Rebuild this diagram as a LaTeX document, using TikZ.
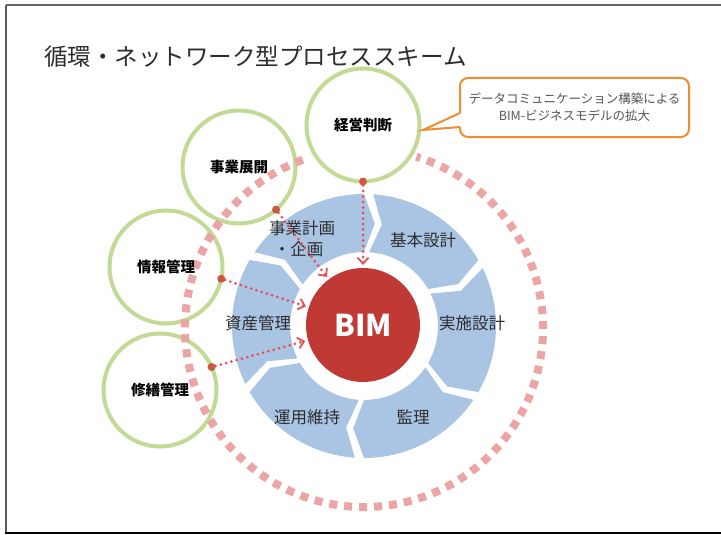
\documentclass[tikz,border=0pt]{standalone}
\usepackage{fontspec}
\newfontfamily\jp{Noto Sans CJK JP}
\usetikzlibrary{arrows.meta}
\definecolor{ringblue}{RGB}{170,196,228}
\definecolor{bimred}{RGB}{192,57,52}
\definecolor{leafgreen}{RGB}{195,218,150}
\definecolor{dashpink}{RGB}{236,165,165}
\definecolor{dotred}{RGB}{205,88,62}
\definecolor{arrowred}{RGB}{230,80,80}
\definecolor{calloutorange}{RGB}{240,140,50}
\definecolor{txtdark}{RGB}{45,45,45}
\definecolor{txtgray}{RGB}{85,85,85}
\tikzset{
  greenring/.style={circle, draw=leafgreen, line width=4pt, minimum size=113pt, inner sep=0pt, outer sep=0pt},
  ringlabel/.style={font=\jp\bfseries\fontsize{14.5pt}{16pt}\selectfont, text=black, inner sep=0pt},
  seglabel/.style={font=\jp\fontsize{16.5pt}{21pt}\selectfont, text=txtdark, inner sep=0pt, align=center},
  reddot/.style={circle, fill=dotred, minimum size=8pt, inner sep=0pt, outer sep=0pt},
  dotarrow/.style={draw=arrowred, line width=3pt, dash pattern=on 0pt off 5.5pt, line cap=round,
    shorten >=3pt, -{Straight Barb[length=6pt,width=11pt,line width=1.8pt]}},
}
\begin{document}
\begin{tikzpicture}[x=1pt,y=-1pt]
\useasboundingbox (0,0) rectangle (721,535);
\fill[white] (0,0) rectangle (721,535);
% frame
\draw[gray!80!black, line width=1.2pt] (6,5) -- (721,5);
\draw[gray!70!black, line width=2pt] (6,5) -- (6,533);
\draw[black, line width=2pt] (5,533) -- (721,533);
% title
\node[anchor=west, font=\jp\fontsize{23.5pt}{28pt}\selectfont, text=txtdark, inner sep=0pt] (title) at (44,57) {循環・ネットワーク型プロセススキーム};
% blue ring segments
\begin{scope}[shift={(364,326)}, x=1pt, y=1pt]
\foreach \g in {88,28,-32,-92,-152,-212} {
  \pgfmathsetmacro\a{\g-2}
  \pgfmathsetmacro\b{\g-60+2}
  \pgfmathsetmacro\an{\a-6}
  \pgfmathsetmacro\bn{\b-6}
  \fill[ringblue] (\a:132) arc[start angle=\a, end angle=\b, radius=132] -- (\bn:103) -- (\b:74)
     arc[start angle=\b, end angle=\a, radius=74] -- (\an:103) -- cycle;
}
\end{scope}
% segment labels
\node[seglabel] (s1) at (302,239) {事業計画\\\hspace*{-0.4em}・企画};
\node[seglabel] (s2) at (423,240) {基本設計};
\node[seglabel] (s3) at (472,323) {実施設計};
\node[seglabel] (s4) at (413,417) {監理};
\node[seglabel] (s5) at (307,417) {運用維持};
\node[seglabel] (s6) at (258,323) {資産管理};
% BIM
\node[circle, fill=bimred, minimum size=114pt, inner sep=0pt, outer sep=0pt, text=white,
  font=\jp\bfseries\fontsize{30pt}{32pt}\selectfont] (bim) at (363,325) {BIM};
% green circles
\node[greenring] (c1) at (363,125) {};
\node[greenring] (c2) at (239,167) {};
\node[greenring] (c3) at (166,267) {};
\node[greenring] (c4) at (160,390) {};
% dashed big circle
\begin{scope}[shift={(364,328)}, x=1pt, y=1pt]
\draw[dashpink, line width=8pt, dash pattern=on 8pt off 7pt] (110:179) arc[start angle=110, end angle=433, radius=179];
\end{scope}
% green circle labels
\node[ringlabel] (t1) at (c1) {経営判断};
\node[ringlabel] (t2) at (c2) {事業展開};
\node[ringlabel] (t3) at (c3) {情報管理};
\node[ringlabel] (t4) at (c4) {修繕管理};
% dots and arrows
\node[reddot] (d1) at (c1.-90) {};
\node[reddot] (d2) at (c2.-49) {};
\node[reddot] (d3) at (c3.-12) {};
\node[reddot] (d4) at (c4.24) {};
\draw[dotarrow] (d1) -- (bim);
\draw[dotarrow] (d2) -- (bim);
\draw[dotarrow] (d3) -- (bim);
\draw[dotarrow] (d4) -- (bim);
% callout
\node[draw=calloutorange, line width=2pt, fill=white, rounded corners=8pt, minimum width=229pt, minimum height=59pt,
  inner sep=0pt, align=center, text=txtgray, font=\jp\fontsize{12.5pt}{17pt}\selectfont] (callout) at (574.5,107.5)
  {データコミュニケーション構築による\\BIM-ビジネスモデルの拡大};
\coordinate (tip) at (423,130);
\fill[white] (461.5,113) -- (tip) -- (461.5,127) -- cycle;
\draw[calloutorange, line width=2pt, line join=miter] (460,113) -- (tip) -- (460,127);
\end{tikzpicture}
\end{document}
